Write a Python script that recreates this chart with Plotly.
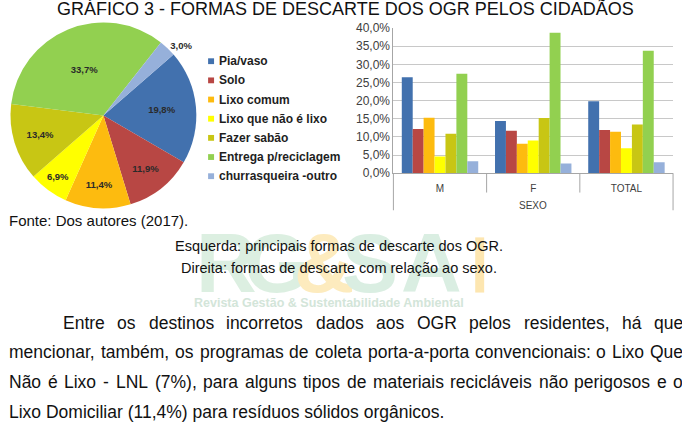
import plotly.graph_objects as go

W, H = 682, 437

def px(x):
    return x / W

def py(y):
    return 1 - y / H

# ---------------- data ----------------
series_names = ["Pia/vaso", "Solo", "Lixo comum", "Lixo que não é lixo",
                "Fazer sabão", "Entrega p/reciclagem", "churrasqueira -outro"]
series_colors = ["#4271AE", "#B84744", "#FDBB0F", "#FFFF00",
                 "#C8C614", "#92D050", "#96B0DA"]

pie_values = [19.8, 11.9, 11.4, 6.9, 13.4, 33.7, 3.0]

categories = ["M", "F", "TOTAL"]
pia_vaso = [26.4, 14.4, 19.8]
solo = [12.2, 11.7, 11.9]
lixo_comum = [15.3, 8.1, 11.4]
lixo_nao_lixo = [4.6, 9.0, 6.9]
fazer_sabao = [10.9, 15.2, 13.4]
entrega = [27.4, 38.7, 33.7]
churrasqueira = [3.3, 2.7, 3.0]
bar_series = [pia_vaso, solo, lixo_comum, lixo_nao_lixo, fazer_sabao, entrega, churrasqueira]

y_ticks = [0, 5, 10, 15, 20, 25, 30, 35, 40]
y_ticktext = [f"{v:.1f}%".replace(".", ",") for v in y_ticks]

title_text = "GRÁFICO 3 - FORMAS DE DESCARTE DOS OGR PELOS CIDADÃOS"
source_text = "Fonte: Dos autores (2017)."
caption_lines = ["Esquerda: principais formas de descarte dos OGR.",
                 "Direita: formas de descarte com relação ao sexo."]
paragraph_lines = [
    "Entre os destinos incorretos dados aos OGR pelos residentes, há que",
    "mencionar, também, os programas de coleta porta-a-porta convencionais: o Lixo Que",
    "Não é Lixo - LNL (7%), para alguns tipos de materiais recicláveis não perigosos e o",
    "Lixo Domiciliar (11,4%) para resíduos sólidos orgânicos.",
]
paragraph_justify = [True, True, True, False]

FONT = "Liberation Sans, Arial"

# ---------------- figure ----------------
fig = go.Figure()

fig.add_trace(go.Pie(
    values=pie_values,
    labels=series_names,
    marker=dict(colors=series_colors, line=dict(width=0)),
    sort=False,
    direction="clockwise",
    rotation=49,
    texttemplate="%{value:.1f}%",
    textposition=["inside"] * 6 + ["outside"],
    insidetextorientation="horizontal",
    textfont=dict(family=FONT, size=9.5, color="#2a2a2a", weight="bold"),
    showlegend=False,
    hoverinfo="label+value",
    domain=dict(x=[px(4), px(196)], y=[py(208), py(16)]),
))

for name, color, vals in zip(series_names, series_colors, bar_series):
    fig.add_trace(go.Bar(
        x=categories, y=vals, name=name,
        marker=dict(color=color, line=dict(width=0)),
        showlegend=False,
        xaxis="x", yaxis="y",
    ))

ann = []
shapes = []

# watermark logo (drawn first so it stays behind the text)
wm_letters = ["R", "G", "&", "S", "A"]
wm_colors = ["#dcefe1", "#dcefe1", "#fdebbe", "#daeee2", "#daeee2"]
wm_x = [224, 274, 322, 368, 430]
for ch, c, xx in zip(wm_letters, wm_colors, wm_x):
    ann.append(dict(text=ch, x=px(xx), y=py(264), xref="paper", yref="paper",
                    xanchor="center", yanchor="middle", showarrow=False,
                    font=dict(family=FONT, size=84, color=c, weight="bold")))
shapes.append(dict(type="rect", xref="paper", yref="paper", layer="below",
                   x0=px(474), x1=px(483), y0=py(295), y1=py(238),
                   fillcolor="#fde6b0", line=dict(width=0)))
ann.append(dict(text="Revista Gestão & Sustentabilidade Ambiental", x=px(327), y=py(306),
                xref="paper", yref="paper", xanchor="center", yanchor="middle", showarrow=False,
                font=dict(family=FONT, size=12.5, color="#d3e5d9", weight="bold")))

# legend (drawn as text rows)
leg_y0, leg_dy = 56, 19.8
for i, (name, color) in enumerate(zip(series_names, series_colors)):
    yc = leg_y0 + i * leg_dy
    shapes.append(dict(type="rect", xref="paper", yref="paper",
                       x0=px(205.3), x1=px(211.3), y0=py(yc + 3), y1=py(yc - 3),
                       fillcolor=color, line=dict(width=0)))
    ann.append(dict(text=name, x=px(214.5), y=py(yc), xref="paper", yref="paper",
                    xanchor="left", yanchor="middle", showarrow=False,
                    font=dict(family=FONT, size=12, color="#1e1e1e", weight="bold")))

# category dividers of the bar chart
n = len(categories)
for i in range(n + 1):
    end = (i == 0 or i == n)
    shapes.append(dict(type="line", xref="x domain", yref="y domain",
                       x0=i / n, x1=i / n, y0=0, y1=-(38.3 if end else 20) / 150,
                       line=dict(color="#A6A6A6", width=1)))
ann.append(dict(text="SEXO", x=0.5, y=-33 / 150, xref="x domain", yref="y domain",
                xanchor="center", yanchor="middle", showarrow=False,
                font=dict(family=FONT, size=10, color="#404040")))

# title
ann.append(dict(text=title_text, x=px(344), y=py(2), xref="paper", yref="paper",
                xanchor="center", yanchor="middle", showarrow=False,
                font=dict(family=FONT, size=18, color="#111111")))
# source
ann.append(dict(text=source_text, x=px(3), y=py(220.5), xref="paper", yref="paper",
                xanchor="left", yanchor="middle", showarrow=False,
                font=dict(family=FONT, size=15, color="#111111")))
# captions
for t, yy in zip(caption_lines, [246.7, 270]):
    ann.append(dict(text=t, x=px(337), y=py(yy), xref="paper", yref="paper",
                    xanchor="center", yanchor="middle", showarrow=False,
                    font=dict(family=FONT, size=14.5, color="#111111")))

# paragraph (justified, using Arial metrics)
AW = {' ': 278, '%': 889, '(': 333, ')': 333, ',': 278, '-': 333, '.': 278, '/': 278, ':': 278}
for d in "0123456789":
    AW[d] = 556
AW.update({'A': 667, 'B': 667, 'C': 722, 'D': 722, 'E': 667, 'F': 611, 'G': 778, 'H': 722, 'I': 278,
           'J': 500, 'K': 667, 'L': 556, 'M': 833, 'N': 722, 'O': 778, 'P': 667, 'Q': 778, 'R': 722,
           'S': 667, 'T': 611, 'U': 722, 'V': 667, 'W': 944, 'X': 667, 'Y': 667, 'Z': 611,
           'a': 556, 'b': 556, 'c': 500, 'd': 556, 'e': 556, 'f': 278, 'g': 556, 'h': 556, 'i': 222,
           'j': 222, 'k': 500, 'l': 222, 'm': 833, 'n': 556, 'o': 556, 'p': 556, 'q': 556, 'r': 333,
           's': 500, 't': 278, 'u': 556, 'v': 500, 'w': 722, 'x': 500, 'y': 500, 'z': 500})
ACC = {'á': 'a', 'à': 'a', 'â': 'a', 'ã': 'a', 'é': 'e', 'ê': 'e', 'í': 'i', 'ó': 'o', 'ô': 'o',
       'õ': 'o', 'ú': 'u', 'ç': 'c', 'Ã': 'A', 'É': 'E', 'Á': 'A'}

def tw(s, fs):
    return sum(AW.get(ACC.get(ch, ch), 556) for ch in s) * fs / 1000

pfs = 17.5
line_y = [326, 356.7, 387.7, 418]
line_x0 = [57.3, 3, 3, 3]
x_right = 681
for text, yy, x0, just in zip(paragraph_lines, line_y, line_x0, paragraph_justify):
    words = text.split(" ")
    if just:
        widths = [tw(w, pfs) for w in words]
        gap = (x_right - x0 - sum(widths)) / (len(words) - 1)
        cur = x0
        for w, wd in zip(words, widths):
            ann.append(dict(text=w, x=px(cur), y=py(yy), xref="paper", yref="paper",
                            xanchor="left", yanchor="middle", showarrow=False,
                            font=dict(family=FONT, size=pfs, color="#111111")))
            cur += wd + gap
    else:
        ann.append(dict(text=text, x=px(x0), y=py(yy), xref="paper", yref="paper",
                        xanchor="left", yanchor="middle", showarrow=False,
                        font=dict(family=FONT, size=pfs, color="#111111")))

fig.update_layout(
    width=W, height=H,
    margin=dict(l=0, r=0, t=0, b=0),
    paper_bgcolor="white", plot_bgcolor="white",
    separators=",.",
    barmode="group", bargap=0.18, bargroupgap=0,
    xaxis=dict(domain=[px(391.7), px(673)], type="category",
               showline=True, linecolor="#A6A6A6", linewidth=1,
               ticks="outside", ticklen=6, tickcolor="rgba(0,0,0,0)",
               tickfont=dict(family=FONT, size=10, color="#404040"),
               showgrid=False, fixedrange=True),
    yaxis=dict(domain=[py(171.7), py(21.7)], range=[0, 40],
               tickmode="array", tickvals=y_ticks, ticktext=y_ticktext,
               showline=True, linecolor="#A6A6A6", linewidth=1,
               gridcolor="#C8C8C8", gridwidth=1, zeroline=False,
               ticks="", tickfont=dict(family=FONT, size=12, color="#404040"),
               fixedrange=True),
    annotations=ann,
    shapes=shapes,
)

fig.write_html("out.html")
